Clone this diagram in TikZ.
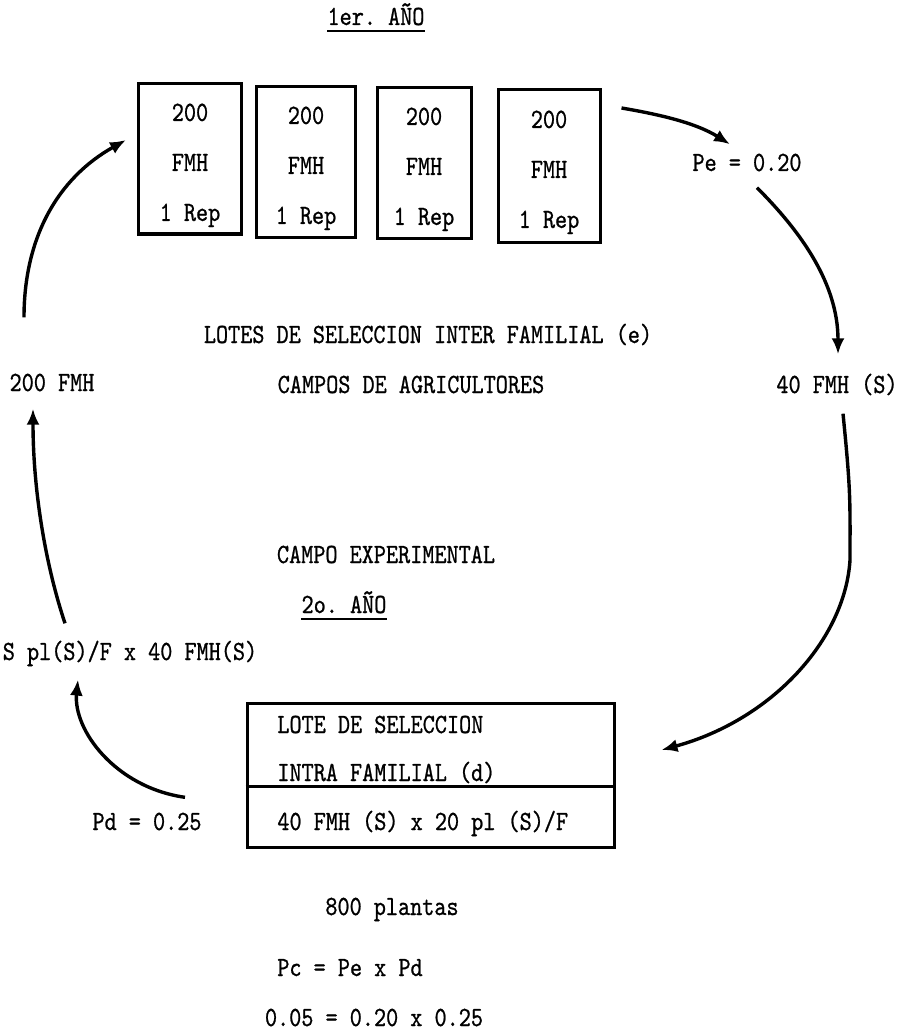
\documentclass[tikz,border=0pt]{standalone}
\usepackage{fontspec}
\setmonofont{lmmono10-regular.otf}[FakeStretch=0.83,FakeBold=0.8]
\usepackage{tikz}
\usetikzlibrary{arrows.meta,positioning,calc}
\newcommand{\maq}{\ttfamily\fontsize{13.9}{25}\selectfont}

\begin{document}
\begin{tikzpicture}[x=0.5pt,y=-0.5pt,>={Latex[length=8pt,width=6.5pt]},
  texto/.style={inner sep=0pt,anchor=base,font=\maq},
  caja/.style={draw,line width=1.5pt,inner sep=0pt,align=center,font=\maq},
  flecha/.style={->,line width=1.7pt}]
  \useasboundingbox (0,0) rectangle (904,1032);
  % primer ano
  \node[texto] (ano1) at (376,25) {1er. AÑO};
  \draw[line width=0.9pt] ([yshift=-3pt]ano1.base west) -- ([yshift=-3pt]ano1.base east);
  \foreach \cx/\cy/\w/\h [count=\i] in {190/159/103/150,306/162/99/150,424/163/94/150,549/166/102/153}
    \node[caja,minimum width=\w*0.5pt,minimum height=\h*0.5pt] (b\i) at (\cx,\cy)
      {\rule{0pt}{15pt}200\\FMH\\1 Rep};
  \node[texto] (pe) at (747,171) {Pe = 0.20};
  % textos centrales
  \node[texto] (lotes) at (428,343) {LOTES DE SELECCION INTER FAMILIAL (e)};
  \node[texto] (fmhL) at (52,391) {200 FMH};
  \node[texto] (campos) at (411,393) {CAMPOS DE AGRICULTORES};
  \node[texto] (fmhS) at (837,393) {40 FMH (S)};
  \node[texto] (exper) at (386,563) {CAMPO EXPERIMENTAL};
  \node[texto] (ano2) at (344,613) {2o. AÑO};
  \draw[line width=0.9pt] ([yshift=-3pt]ano2.base west) -- ([yshift=-3pt]ano2.base east);
  \node[texto] (spl) at (130,660) {S pl(S)/F x 40 FMH(S)};
  % segundo ano
  \node[draw,line width=1.5pt,minimum width=183.5pt,minimum height=72pt] (lote) at (430.5,775) {};
  \draw[line width=1.5pt] ([yshift=-5.5pt]lote.west) -- ([yshift=-5.5pt]lote.east);
  \node[texto,anchor=base west] (lote1) at (277,733) {LOTE DE SELECCION};
  \node[texto,anchor=base west] (lote2) at (277,781) {INTRA FAMILIAL (d)};
  \node[texto,anchor=base west] (lote3) at (277,830) {40 FMH (S) x 20 pl (S)/F};
  \node[texto] (pd) at (147,830) {Pd = 0.25};
  \node[texto] (plantas) at (392,915) {800 plantas};
  \node[texto] (pc) at (350,976) {Pc = Pe x Pd};
  \node[texto] (calc) at (374,1026) {0.05 = 0.20 x 0.25};
  % flechas
  \draw[flecha] ([shift={(-28,-56)}]fmhL.north) .. controls +(0,-80) and +(-68,38) .. ([shift={(-11,-19)}]b1.west);
  \draw[flecha] ([shift={(-65,-17)}]spl.north) .. controls +(-20,-60) and +(0,80) .. ([shift={(-19,17)}]fmhL.south);
  \draw[flecha] ([shift={(38,-15)}]pd.north) .. controls +(-70,-10) and +(-5,50) .. ([shift={(-52,13)}]spl.south);
  \draw[flecha] ([shift={(20,20)}]b4.north east) .. controls +(35,6) and +(-35,-22) .. ([shift={(-17,-9)}]pe.north);
  \draw[flecha] ([shift={(10,16)}]pe.south) .. controls +(45,45) and +(0,-70) .. ([shift={(1,-19)}]fmhS.north);
  \draw[flecha] ([shift={(6,18)}]fmhS.south) .. controls +(8,80) and +(0,-60) .. (850,560)
    .. controls +(-5,80) and +(110,-30) .. ([shift={(46,-25)}]lote.east);
\end{tikzpicture}
\end{document}
